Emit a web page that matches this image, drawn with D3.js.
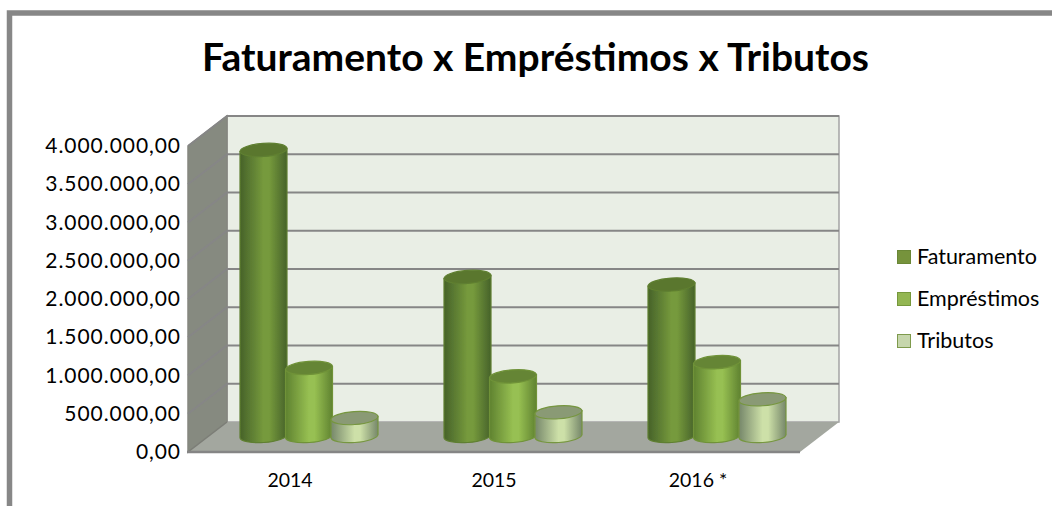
<!DOCTYPE html>
<html><head><meta charset="utf-8">
<script src="https://cdn.jsdelivr.net/npm/d3@7"></script>
<style>html,body{margin:0;padding:0;background:#fff}svg{display:block}text{font-family:Lato,sans-serif;fill:#000}</style>
</head><body><svg id="c" width="1052" height="506"></svg>
<script>
const categories = ["2014","2015","2016 *"];
const seriesNames = ["Faturamento","Empréstimos","Tributos"];
const faturamento = [3740000,2080000,1980000];
const emprestimos = [890000,780000,965000];
const tributos = [235000,310000,480000];
const tickValues = [0,500000,1000000,1500000,2000000,2500000,3000000,3500000,4000000];
const title = "Faturamento x Empréstimos x Tributos";

const valuesBySeries = [faturamento,emprestimos,tributos];
const palette = [
 {edge:"#46622a",mid:"#769a3c",top:"#5a772e",stroke:"#5f7f30",sw:"#76933c",swS:"#6a8736"},
 {edge:"#5f8230",mid:"#97c052",top:"#658535",stroke:"#6f9238",sw:"#93b652",swS:"#76983c"},
 {edge:"#76876a",mid:"#cde0a8",top:"#8a9a74",stroke:"#76963f",sw:"#c6d6ac",swS:"#7e9a4c"}
];
const svg = d3.select("#c");
const defs = svg.append("defs");
const blur = defs.append("filter").attr("id","soft");
blur.append("feGaussianBlur").attr("stdDeviation",0.45);
palette.forEach((p,i)=>{
  const g = defs.append("linearGradient").attr("id","g"+i);
  [[0,p.edge],[.5,p.mid],[.62,p.mid],[1,p.edge]].forEach(([o,c])=>g.append("stop").attr("offset",o).attr("stop-color",c));
});

// frame
svg.append("path").attr("d","M9.5,506V13H1052").attr("fill","none").attr("stroke","#878787").attr("stroke-width",5.5);

svg.append("text").attr("x",535.5).attr("y",71).attr("text-anchor","middle")
  .attr("font-size",39).attr("font-weight",700).text(title);

const plotLeft=188, plotRight=800, floorY=452, topY=146, dx=39, dy=-30;
const x = d3.scaleBand().domain(categories).range([plotLeft,plotRight]);
const y = d3.scaleLinear().domain([0,4000000]).range([floorY,topY]);
const inner = d3.scalePoint().domain(seriesNames).range([-45.5,45.5]);

const plot = svg.append("g").attr("filter","url(#soft)");
// walls
plot.append("path").attr("d",`M${plotLeft+dx},${y(4000000)+dy}H${plotRight+dx}V${floorY+dy}H${plotLeft+dx}Z`)
  .attr("fill","#e9eee5").attr("stroke","#a4a4a4").attr("stroke-width",1.5);
plot.append("path").attr("d",`M${plotLeft},${floorY}V${y(4000000)}L${plotLeft+dx},${y(4000000)+dy}V${floorY+dy}Z`)
  .attr("fill","#868a80").attr("stroke","#85877f").attr("stroke-width",1.5);
plot.append("path").attr("d",`M${plotLeft},${floorY}H${plotRight}L${plotRight+dx},${floorY+dy}H${plotLeft+dx}Z`)
  .attr("fill","#a3a79f");
// gridlines
tickValues.filter(v=>v>0).forEach(v=>{
  plot.append("path").attr("d",`M${plotLeft},${y(v)}L${plotLeft+dx},${y(v)+dy}H${plotRight+dx}`)
    .attr("fill","none").attr("stroke","#868686").attr("stroke-width",2);
});
plot.append("path").attr("d",`M${plotLeft},${floorY}L${plotLeft+dx},${floorY+dy}`).attr("stroke","#7b7d76").attr("stroke-width",1.5);
plot.append("path").attr("d",`M${plotLeft-1},${floorY}H${plotRight}`).attr("stroke","#858585").attr("stroke-width",2.5);

// cylinders
const rx=23.5, ry=6.5, tilt=-4, lift=1.6, depthX=19, depthY=-16;
categories.forEach((c,ci)=>{
  seriesNames.forEach((s,si)=>{
    const cx = x(c)+x.bandwidth()/2+depthX+inner(s);
    const base = floorY+depthY;
    const h = floorY-y(valuesBySeries[si][ci]);
    const t = base-h, p = palette[si];
    plot.append("path")
      .attr("d",`M${cx-rx},${t+lift}L${cx-rx},${base+lift}A${rx},${ry} ${tilt} 0 0 ${cx+rx},${base-lift}L${cx+rx},${t-lift}Z`)
      .attr("fill",`url(#g${si})`).attr("stroke",p.stroke).attr("stroke-width",1.2);
    plot.append("ellipse").attr("cx",cx).attr("cy",t).attr("rx",rx).attr("ry",ry)
      .attr("transform",`rotate(${tilt} ${cx} ${t})`)
      .attr("fill",p.top).attr("stroke",p.stroke).attr("stroke-width",1.2);
  });
});

// axes
const fmt = d3.formatLocale({decimal:",",thousands:".",grouping:[3],currency:["",""]}).format(",.2f");
const yAxis = svg.append("g").attr("transform",`translate(${plotLeft},0)`)
  .call(d3.axisLeft(y).tickValues(tickValues).tickFormat(fmt).tickSize(0).tickPadding(7));
yAxis.select(".domain").remove();
yAxis.selectAll("text").attr("font-size",21).attr("letter-spacing",0.95).attr("font-family","Lato,sans-serif").attr("fill","#000");
const xAxis = svg.append("g").attr("transform",`translate(0,${floorY})`)
  .call(d3.axisBottom(x).tickSize(0).tickPadding(21));
xAxis.select(".domain").remove();
xAxis.selectAll("text").attr("font-size",19.5).attr("font-family","Lato,sans-serif").attr("fill","#000");

// legend
const legend = d3.scalePoint().domain(seriesNames).range([257,341]);
seriesNames.forEach((s,i)=>{
  svg.append("rect").attr("x",897.5).attr("y",legend(s)-6.5).attr("width",13).attr("height",13)
    .attr("fill",palette[i].sw).attr("stroke",palette[i].swS).attr("stroke-width",1);
  svg.append("text").attr("x",917).attr("y",legend(s)+7).attr("font-size",21.5).text(s);
});
</script></body></html>
